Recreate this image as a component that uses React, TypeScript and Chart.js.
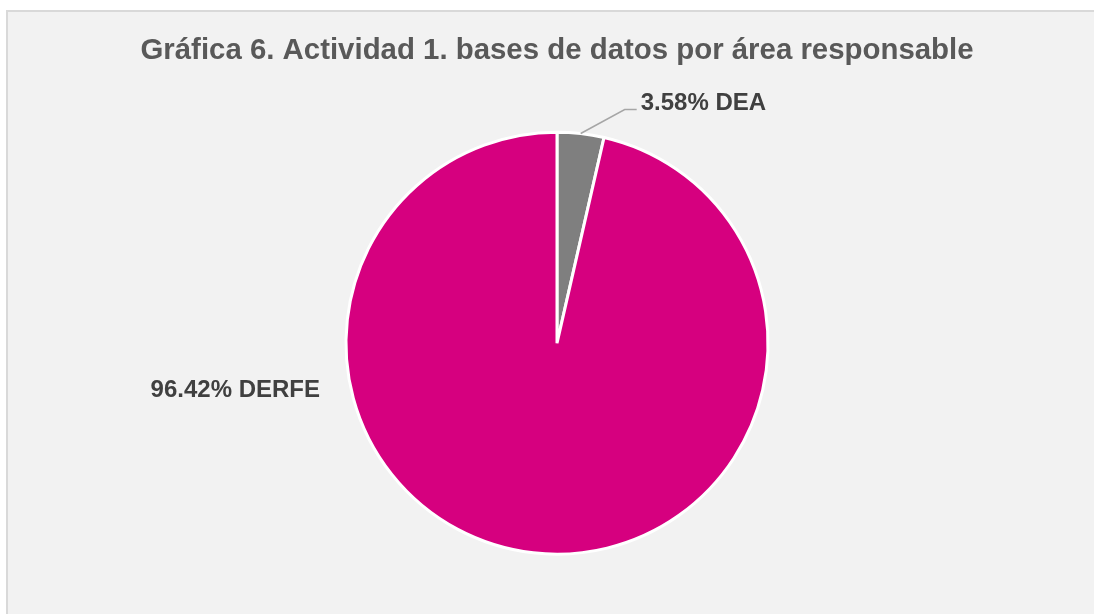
import React, { useEffect, useRef } from "react";
import { Chart, registerables } from "chart.js";

Chart.register(...registerables);

const categories = ["DEA", "DERFE"];
const values = [3.58, 96.42];
const colors = ["#7f7f7f", "#d6007f"];
const titleText = "Gráfica 6. Actividad 1. bases de datos por área responsable";

const labelPlugin = {
  id: "pieLabels",
  afterDatasetsDraw(chart: any) {
    const meta = chart.getDatasetMeta(0);
    const ctx = chart.ctx;
    ctx.save();
    ctx.font = "bold 24px 'Liberation Sans', Arial, sans-serif";
    ctx.fillStyle = "#404040";
    ctx.textBaseline = "middle";
    meta.data.forEach((arc: any, i: number) => {
      const { x, y, startAngle, endAngle, outerRadius } = arc.getProps(
        ["x", "y", "startAngle", "endAngle", "outerRadius"],
        true
      );
      const mid = (startAngle + endAngle) / 2;
      const text = `${values[i].toFixed(2)}% ${categories[i]}`;
      if (i === 0) {
        const sx = x + Math.cos(mid) * outerRadius;
        const sy = y + Math.sin(mid) * outerRadius;
        const ex = sx + 44;
        const ey = sy - 24;
        ctx.strokeStyle = "#a6a6a6";
        ctx.lineWidth = 1.5;
        ctx.beginPath();
        ctx.moveTo(sx, sy);
        ctx.lineTo(ex, ey);
        ctx.lineTo(ex + 12, ey);
        ctx.stroke();
        ctx.textAlign = "left";
        ctx.fillText(text, ex + 16, ey - 6);
      } else {
        ctx.textAlign = "right";
        ctx.fillText(text, x - outerRadius - 26, y + 47);
      }
    });
    ctx.restore();
  },
};

export default function App() {
  const ref = useRef<HTMLCanvasElement>(null);
  useEffect(() => {
    if (!ref.current) return;
    const chart = new Chart(ref.current, {
      type: "pie",
      data: {
        labels: categories,
        datasets: [
          {
            data: values,
            backgroundColor: colors,
            borderColor: "#ffffff",
            borderWidth: 3,
          },
        ],
      },
      options: {
        animation: false,
        responsive: false,
        radius: 211,
        layout: { padding: { left: 20, right: 0, top: 0, bottom: 0 } },
        plugins: {
          legend: { display: false },
          tooltip: { enabled: false },
          title: {
            display: true,
            text: titleText,
            color: "#595959",
            font: { family: "'Liberation Sans', Arial, sans-serif", size: 29.4, weight: "bold", lineHeight: 1.2 },
            padding: { top: 33, bottom: 4 },
          },
        },
      } as any,
      plugins: [labelPlugin],
    });
    return () => chart.destroy();
  }, []);
  return (
    <>
      <div
        style={{
          position: "fixed",
          left: 6,
          top: 10,
          right: -200,
          bottom: -200,
          borderTop: "2px solid #d9d9d9",
          borderLeft: "2px solid #d9d9d9",
          background: "#f2f2f2",
        }}
      />
      <canvas
        ref={ref}
        width={1094}
        height={614}
        style={{ position: "fixed", left: 0, top: 0, width: 1094, height: 614 }}
      />
    </>
  );
}
